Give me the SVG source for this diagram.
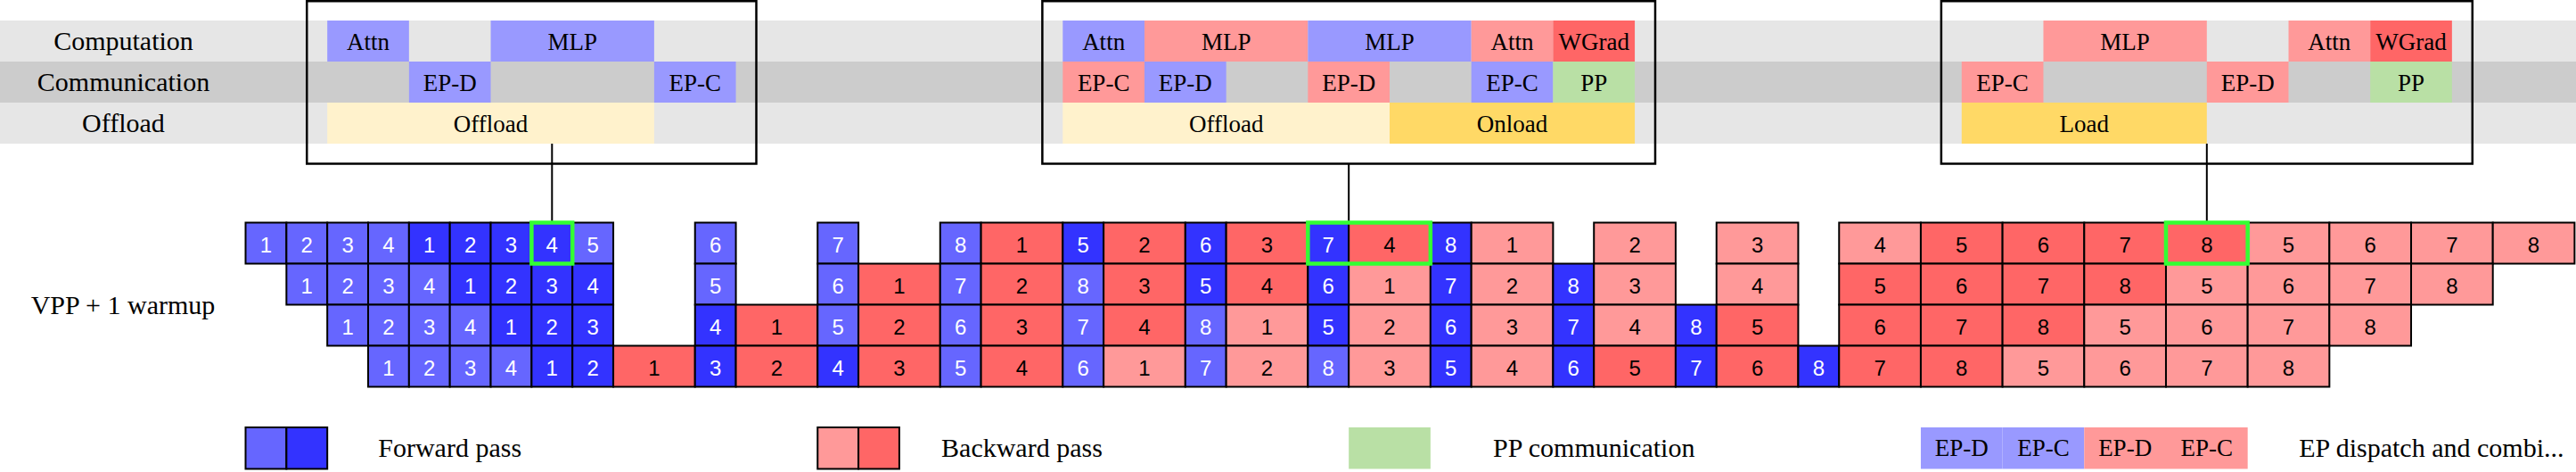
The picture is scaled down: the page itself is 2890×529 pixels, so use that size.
<svg xmlns="http://www.w3.org/2000/svg" width="2890" height="529" viewBox="0 0 2890 529">
<style>
.bandL{fill:#e6e6e6}.bandD{fill:#cccccc}
.tb{fill:#9999ff}.tr{fill:#ff9999}.tw{fill:#ff6666}.tg{fill:#b9e0a5}.ty{fill:#fff2cc}.to{fill:#ffd966}
.lbl{font-family:"Liberation Serif","Times New Roman",serif;font-size:30px;fill:#000;text-anchor:middle}
.tl{font-family:"Liberation Serif","Times New Roman",serif;font-size:27px;fill:#000;text-anchor:middle}
.box{fill:none;stroke:#000;stroke-width:2.5}
.cell rect{stroke:#000;stroke-width:2}
.cell text{font-family:"Liberation Sans",Arial,sans-serif;font-size:24px;text-anchor:middle}
.fl rect{fill:#6666ff}.fd rect{fill:#3333ff}.br rect{fill:#ff6666}.bp rect{fill:#ff9999}
.fl text,.fd text{fill:#fff}.br text,.bp text{fill:#000}
.hl{fill:none;stroke:#33ff33;stroke-width:4.5}
.conn line{stroke:#000;stroke-width:2}
.lg rect{stroke:#000;stroke-width:2}
</style>
<g id="bands">
<rect class="bandL" x="0" y="23" width="2890" height="46"/>
<rect class="bandD" x="0" y="69" width="2890" height="46"/>
<rect class="bandL" x="0" y="115" width="2890" height="46"/>
</g>
<g id="row-labels">
<text class="lbl" x="138.5" y="56">Computation</text>
<text class="lbl" x="138.5" y="102">Communication</text>
<text class="lbl" x="138.5" y="148">Offload</text>
<text class="lbl" x="138" y="351.5">VPP + 1 warmup</text>
</g>
<g id="detail1">
<rect class="tb" x="367.18" y="23" width="91.68" height="46"/><text class="tl" x="413.02" y="56">Attn</text>
<rect class="tb" x="550.54" y="23" width="183.36" height="46"/><text class="tl" x="642.22" y="56">MLP</text>
<rect class="tb" x="458.86" y="69" width="91.68" height="46"/><text class="tl" x="504.70" y="102">EP-D</text>
<rect class="tb" x="733.90" y="69" width="91.68" height="46"/><text class="tl" x="779.74" y="102">EP-C</text>
<rect class="ty" x="367.18" y="115" width="366.72" height="46"/><text class="tl" x="550.54" y="148">Offload</text>
<rect class="box" x="344.26" y="1.25" width="504.24" height="182.25"/>
</g>
<g id="detail2">
<rect class="tb" x="1192.30" y="23" width="91.68" height="46"/><text class="tl" x="1238.14" y="56">Attn</text>
<rect class="tr" x="1283.98" y="23" width="183.36" height="46"/><text class="tl" x="1375.66" y="56">MLP</text>
<rect class="tb" x="1467.34" y="23" width="183.36" height="46"/><text class="tl" x="1559.02" y="56">MLP</text>
<rect class="tr" x="1650.70" y="23" width="91.68" height="46"/><text class="tl" x="1696.54" y="56">Attn</text>
<rect class="tw" x="1742.38" y="23" width="91.68" height="46"/><text class="tl" x="1788.22" y="56">WGrad</text>
<rect class="tr" x="1192.30" y="69" width="91.68" height="46"/><text class="tl" x="1238.14" y="102">EP-C</text>
<rect class="tb" x="1283.98" y="69" width="91.68" height="46"/><text class="tl" x="1329.82" y="102">EP-D</text>
<rect class="tr" x="1467.34" y="69" width="91.68" height="46"/><text class="tl" x="1513.18" y="102">EP-D</text>
<rect class="tb" x="1650.70" y="69" width="91.68" height="46"/><text class="tl" x="1696.54" y="102">EP-C</text>
<rect class="tg" x="1742.38" y="69" width="91.68" height="46"/><text class="tl" x="1788.22" y="102">PP</text>
<rect class="ty" x="1192.30" y="115" width="366.72" height="46"/><text class="tl" x="1375.66" y="148">Offload</text>
<rect class="to" x="1559.02" y="115" width="275.04" height="46"/><text class="tl" x="1696.54" y="148">Onload</text>
<rect class="box" x="1169.38" y="1.25" width="687.6" height="182.25"/>
</g>
<g id="detail3">
<rect class="tr" x="2292.46" y="23" width="183.36" height="46"/><text class="tl" x="2384.14" y="56">MLP</text>
<rect class="tr" x="2567.50" y="23" width="91.68" height="46"/><text class="tl" x="2613.34" y="56">Attn</text>
<rect class="tw" x="2659.18" y="23" width="91.68" height="46"/><text class="tl" x="2705.02" y="56">WGrad</text>
<rect class="tr" x="2200.78" y="69" width="91.68" height="46"/><text class="tl" x="2246.62" y="102">EP-C</text>
<rect class="tr" x="2475.82" y="69" width="91.68" height="46"/><text class="tl" x="2521.66" y="102">EP-D</text>
<rect class="tg" x="2659.18" y="69" width="91.68" height="46"/><text class="tl" x="2705.02" y="102">PP</text>
<rect class="to" x="2200.78" y="115" width="275.04" height="46"/><text class="tl" x="2338.30" y="148">Load</text>
<rect class="box" x="2177.86" y="1.25" width="595.92" height="182.25"/>
</g>
<g id="connectors" class="conn">
<line x1="619.30" y1="161" x2="619.30" y2="249.5"/>
<line x1="1513.18" y1="183.5" x2="1513.18" y2="249.5"/>
<line x1="2475.82" y1="161" x2="2475.82" y2="249.5"/>
</g>
<g id="row1">
<g id="r1-0" class="cell fl"><rect x="275.50" y="249.5" width="45.84" height="46"/><text x="298.42" y="282.5">1</text></g>
<g id="r1-1" class="cell fl"><rect x="321.34" y="249.5" width="45.84" height="46"/><text x="344.26" y="282.5">2</text></g>
<g id="r1-2" class="cell fl"><rect x="367.18" y="249.5" width="45.84" height="46"/><text x="390.10" y="282.5">3</text></g>
<g id="r1-3" class="cell fl"><rect x="413.02" y="249.5" width="45.84" height="46"/><text x="435.94" y="282.5">4</text></g>
<g id="r1-4" class="cell fd"><rect x="458.86" y="249.5" width="45.84" height="46"/><text x="481.78" y="282.5">1</text></g>
<g id="r1-5" class="cell fd"><rect x="504.70" y="249.5" width="45.84" height="46"/><text x="527.62" y="282.5">2</text></g>
<g id="r1-6" class="cell fd"><rect x="550.54" y="249.5" width="45.84" height="46"/><text x="573.46" y="282.5">3</text></g>
<g id="r1-7" class="cell fd"><rect x="596.38" y="249.5" width="45.84" height="46"/><text x="619.30" y="282.5">4</text></g>
<g id="r1-8" class="cell fl"><rect x="642.22" y="249.5" width="45.84" height="46"/><text x="665.14" y="282.5">5</text></g>
<g id="r1-11" class="cell fl"><rect x="779.74" y="249.5" width="45.84" height="46"/><text x="802.66" y="282.5">6</text></g>
<g id="r1-14" class="cell fl"><rect x="917.26" y="249.5" width="45.84" height="46"/><text x="940.18" y="282.5">7</text></g>
<g id="r1-17" class="cell fl"><rect x="1054.78" y="249.5" width="45.84" height="46"/><text x="1077.70" y="282.5">8</text></g>
<g id="r1-18" class="cell br"><rect x="1100.62" y="249.5" width="91.68" height="46"/><text x="1146.46" y="282.5">1</text></g>
<g id="r1-20" class="cell fd"><rect x="1192.30" y="249.5" width="45.84" height="46"/><text x="1215.22" y="282.5">5</text></g>
<g id="r1-21" class="cell br"><rect x="1238.14" y="249.5" width="91.68" height="46"/><text x="1283.98" y="282.5">2</text></g>
<g id="r1-23" class="cell fd"><rect x="1329.82" y="249.5" width="45.84" height="46"/><text x="1352.74" y="282.5">6</text></g>
<g id="r1-24" class="cell br"><rect x="1375.66" y="249.5" width="91.68" height="46"/><text x="1421.50" y="282.5">3</text></g>
<g id="r1-26" class="cell fd"><rect x="1467.34" y="249.5" width="45.84" height="46"/><text x="1490.26" y="282.5">7</text></g>
<g id="r1-27" class="cell br"><rect x="1513.18" y="249.5" width="91.68" height="46"/><text x="1559.02" y="282.5">4</text></g>
<g id="r1-29" class="cell fd"><rect x="1604.86" y="249.5" width="45.84" height="46"/><text x="1627.78" y="282.5">8</text></g>
<g id="r1-30" class="cell bp"><rect x="1650.70" y="249.5" width="91.68" height="46"/><text x="1696.54" y="282.5">1</text></g>
<g id="r1-33" class="cell bp"><rect x="1788.22" y="249.5" width="91.68" height="46"/><text x="1834.06" y="282.5">2</text></g>
<g id="r1-36" class="cell bp"><rect x="1925.74" y="249.5" width="91.68" height="46"/><text x="1971.58" y="282.5">3</text></g>
<g id="r1-39" class="cell bp"><rect x="2063.26" y="249.5" width="91.68" height="46"/><text x="2109.10" y="282.5">4</text></g>
<g id="r1-41" class="cell br"><rect x="2154.94" y="249.5" width="91.68" height="46"/><text x="2200.78" y="282.5">5</text></g>
<g id="r1-43" class="cell br"><rect x="2246.62" y="249.5" width="91.68" height="46"/><text x="2292.46" y="282.5">6</text></g>
<g id="r1-45" class="cell br"><rect x="2338.30" y="249.5" width="91.68" height="46"/><text x="2384.14" y="282.5">7</text></g>
<g id="r1-47" class="cell br"><rect x="2429.98" y="249.5" width="91.68" height="46"/><text x="2475.82" y="282.5">8</text></g>
<g id="r1-49" class="cell bp"><rect x="2521.66" y="249.5" width="91.68" height="46"/><text x="2567.50" y="282.5">5</text></g>
<g id="r1-51" class="cell bp"><rect x="2613.34" y="249.5" width="91.68" height="46"/><text x="2659.18" y="282.5">6</text></g>
<g id="r1-53" class="cell bp"><rect x="2705.02" y="249.5" width="91.68" height="46"/><text x="2750.86" y="282.5">7</text></g>
<g id="r1-55" class="cell bp"><rect x="2796.70" y="249.5" width="91.68" height="46"/><text x="2842.54" y="282.5">8</text></g>
</g>
<g id="row2">
<g id="r2-1" class="cell fl"><rect x="321.34" y="295.5" width="45.84" height="46"/><text x="344.26" y="328.5">1</text></g>
<g id="r2-2" class="cell fl"><rect x="367.18" y="295.5" width="45.84" height="46"/><text x="390.10" y="328.5">2</text></g>
<g id="r2-3" class="cell fl"><rect x="413.02" y="295.5" width="45.84" height="46"/><text x="435.94" y="328.5">3</text></g>
<g id="r2-4" class="cell fl"><rect x="458.86" y="295.5" width="45.84" height="46"/><text x="481.78" y="328.5">4</text></g>
<g id="r2-5" class="cell fd"><rect x="504.70" y="295.5" width="45.84" height="46"/><text x="527.62" y="328.5">1</text></g>
<g id="r2-6" class="cell fd"><rect x="550.54" y="295.5" width="45.84" height="46"/><text x="573.46" y="328.5">2</text></g>
<g id="r2-7" class="cell fd"><rect x="596.38" y="295.5" width="45.84" height="46"/><text x="619.30" y="328.5">3</text></g>
<g id="r2-8" class="cell fd"><rect x="642.22" y="295.5" width="45.84" height="46"/><text x="665.14" y="328.5">4</text></g>
<g id="r2-11" class="cell fl"><rect x="779.74" y="295.5" width="45.84" height="46"/><text x="802.66" y="328.5">5</text></g>
<g id="r2-14" class="cell fl"><rect x="917.26" y="295.5" width="45.84" height="46"/><text x="940.18" y="328.5">6</text></g>
<g id="r2-15" class="cell br"><rect x="963.10" y="295.5" width="91.68" height="46"/><text x="1008.94" y="328.5">1</text></g>
<g id="r2-17" class="cell fl"><rect x="1054.78" y="295.5" width="45.84" height="46"/><text x="1077.70" y="328.5">7</text></g>
<g id="r2-18" class="cell br"><rect x="1100.62" y="295.5" width="91.68" height="46"/><text x="1146.46" y="328.5">2</text></g>
<g id="r2-20" class="cell fl"><rect x="1192.30" y="295.5" width="45.84" height="46"/><text x="1215.22" y="328.5">8</text></g>
<g id="r2-21" class="cell br"><rect x="1238.14" y="295.5" width="91.68" height="46"/><text x="1283.98" y="328.5">3</text></g>
<g id="r2-23" class="cell fd"><rect x="1329.82" y="295.5" width="45.84" height="46"/><text x="1352.74" y="328.5">5</text></g>
<g id="r2-24" class="cell br"><rect x="1375.66" y="295.5" width="91.68" height="46"/><text x="1421.50" y="328.5">4</text></g>
<g id="r2-26" class="cell fd"><rect x="1467.34" y="295.5" width="45.84" height="46"/><text x="1490.26" y="328.5">6</text></g>
<g id="r2-27" class="cell bp"><rect x="1513.18" y="295.5" width="91.68" height="46"/><text x="1559.02" y="328.5">1</text></g>
<g id="r2-29" class="cell fd"><rect x="1604.86" y="295.5" width="45.84" height="46"/><text x="1627.78" y="328.5">7</text></g>
<g id="r2-30" class="cell bp"><rect x="1650.70" y="295.5" width="91.68" height="46"/><text x="1696.54" y="328.5">2</text></g>
<g id="r2-32" class="cell fd"><rect x="1742.38" y="295.5" width="45.84" height="46"/><text x="1765.30" y="328.5">8</text></g>
<g id="r2-33" class="cell bp"><rect x="1788.22" y="295.5" width="91.68" height="46"/><text x="1834.06" y="328.5">3</text></g>
<g id="r2-36" class="cell bp"><rect x="1925.74" y="295.5" width="91.68" height="46"/><text x="1971.58" y="328.5">4</text></g>
<g id="r2-39" class="cell br"><rect x="2063.26" y="295.5" width="91.68" height="46"/><text x="2109.10" y="328.5">5</text></g>
<g id="r2-41" class="cell br"><rect x="2154.94" y="295.5" width="91.68" height="46"/><text x="2200.78" y="328.5">6</text></g>
<g id="r2-43" class="cell br"><rect x="2246.62" y="295.5" width="91.68" height="46"/><text x="2292.46" y="328.5">7</text></g>
<g id="r2-45" class="cell br"><rect x="2338.30" y="295.5" width="91.68" height="46"/><text x="2384.14" y="328.5">8</text></g>
<g id="r2-47" class="cell bp"><rect x="2429.98" y="295.5" width="91.68" height="46"/><text x="2475.82" y="328.5">5</text></g>
<g id="r2-49" class="cell bp"><rect x="2521.66" y="295.5" width="91.68" height="46"/><text x="2567.50" y="328.5">6</text></g>
<g id="r2-51" class="cell bp"><rect x="2613.34" y="295.5" width="91.68" height="46"/><text x="2659.18" y="328.5">7</text></g>
<g id="r2-53" class="cell bp"><rect x="2705.02" y="295.5" width="91.68" height="46"/><text x="2750.86" y="328.5">8</text></g>
</g>
<g id="row3">
<g id="r3-2" class="cell fl"><rect x="367.18" y="341.5" width="45.84" height="46"/><text x="390.10" y="374.5">1</text></g>
<g id="r3-3" class="cell fl"><rect x="413.02" y="341.5" width="45.84" height="46"/><text x="435.94" y="374.5">2</text></g>
<g id="r3-4" class="cell fl"><rect x="458.86" y="341.5" width="45.84" height="46"/><text x="481.78" y="374.5">3</text></g>
<g id="r3-5" class="cell fl"><rect x="504.70" y="341.5" width="45.84" height="46"/><text x="527.62" y="374.5">4</text></g>
<g id="r3-6" class="cell fd"><rect x="550.54" y="341.5" width="45.84" height="46"/><text x="573.46" y="374.5">1</text></g>
<g id="r3-7" class="cell fd"><rect x="596.38" y="341.5" width="45.84" height="46"/><text x="619.30" y="374.5">2</text></g>
<g id="r3-8" class="cell fd"><rect x="642.22" y="341.5" width="45.84" height="46"/><text x="665.14" y="374.5">3</text></g>
<g id="r3-11" class="cell fd"><rect x="779.74" y="341.5" width="45.84" height="46"/><text x="802.66" y="374.5">4</text></g>
<g id="r3-12" class="cell br"><rect x="825.58" y="341.5" width="91.68" height="46"/><text x="871.42" y="374.5">1</text></g>
<g id="r3-14" class="cell fl"><rect x="917.26" y="341.5" width="45.84" height="46"/><text x="940.18" y="374.5">5</text></g>
<g id="r3-15" class="cell br"><rect x="963.10" y="341.5" width="91.68" height="46"/><text x="1008.94" y="374.5">2</text></g>
<g id="r3-17" class="cell fl"><rect x="1054.78" y="341.5" width="45.84" height="46"/><text x="1077.70" y="374.5">6</text></g>
<g id="r3-18" class="cell br"><rect x="1100.62" y="341.5" width="91.68" height="46"/><text x="1146.46" y="374.5">3</text></g>
<g id="r3-20" class="cell fl"><rect x="1192.30" y="341.5" width="45.84" height="46"/><text x="1215.22" y="374.5">7</text></g>
<g id="r3-21" class="cell br"><rect x="1238.14" y="341.5" width="91.68" height="46"/><text x="1283.98" y="374.5">4</text></g>
<g id="r3-23" class="cell fl"><rect x="1329.82" y="341.5" width="45.84" height="46"/><text x="1352.74" y="374.5">8</text></g>
<g id="r3-24" class="cell bp"><rect x="1375.66" y="341.5" width="91.68" height="46"/><text x="1421.50" y="374.5">1</text></g>
<g id="r3-26" class="cell fd"><rect x="1467.34" y="341.5" width="45.84" height="46"/><text x="1490.26" y="374.5">5</text></g>
<g id="r3-27" class="cell bp"><rect x="1513.18" y="341.5" width="91.68" height="46"/><text x="1559.02" y="374.5">2</text></g>
<g id="r3-29" class="cell fd"><rect x="1604.86" y="341.5" width="45.84" height="46"/><text x="1627.78" y="374.5">6</text></g>
<g id="r3-30" class="cell bp"><rect x="1650.70" y="341.5" width="91.68" height="46"/><text x="1696.54" y="374.5">3</text></g>
<g id="r3-32" class="cell fd"><rect x="1742.38" y="341.5" width="45.84" height="46"/><text x="1765.30" y="374.5">7</text></g>
<g id="r3-33" class="cell bp"><rect x="1788.22" y="341.5" width="91.68" height="46"/><text x="1834.06" y="374.5">4</text></g>
<g id="r3-35" class="cell fd"><rect x="1879.90" y="341.5" width="45.84" height="46"/><text x="1902.82" y="374.5">8</text></g>
<g id="r3-36" class="cell br"><rect x="1925.74" y="341.5" width="91.68" height="46"/><text x="1971.58" y="374.5">5</text></g>
<g id="r3-39" class="cell br"><rect x="2063.26" y="341.5" width="91.68" height="46"/><text x="2109.10" y="374.5">6</text></g>
<g id="r3-41" class="cell br"><rect x="2154.94" y="341.5" width="91.68" height="46"/><text x="2200.78" y="374.5">7</text></g>
<g id="r3-43" class="cell br"><rect x="2246.62" y="341.5" width="91.68" height="46"/><text x="2292.46" y="374.5">8</text></g>
<g id="r3-45" class="cell bp"><rect x="2338.30" y="341.5" width="91.68" height="46"/><text x="2384.14" y="374.5">5</text></g>
<g id="r3-47" class="cell bp"><rect x="2429.98" y="341.5" width="91.68" height="46"/><text x="2475.82" y="374.5">6</text></g>
<g id="r3-49" class="cell bp"><rect x="2521.66" y="341.5" width="91.68" height="46"/><text x="2567.50" y="374.5">7</text></g>
<g id="r3-51" class="cell bp"><rect x="2613.34" y="341.5" width="91.68" height="46"/><text x="2659.18" y="374.5">8</text></g>
</g>
<g id="row4">
<g id="r4-3" class="cell fl"><rect x="413.02" y="387.5" width="45.84" height="46"/><text x="435.94" y="420.5">1</text></g>
<g id="r4-4" class="cell fl"><rect x="458.86" y="387.5" width="45.84" height="46"/><text x="481.78" y="420.5">2</text></g>
<g id="r4-5" class="cell fl"><rect x="504.70" y="387.5" width="45.84" height="46"/><text x="527.62" y="420.5">3</text></g>
<g id="r4-6" class="cell fl"><rect x="550.54" y="387.5" width="45.84" height="46"/><text x="573.46" y="420.5">4</text></g>
<g id="r4-7" class="cell fd"><rect x="596.38" y="387.5" width="45.84" height="46"/><text x="619.30" y="420.5">1</text></g>
<g id="r4-8" class="cell fd"><rect x="642.22" y="387.5" width="45.84" height="46"/><text x="665.14" y="420.5">2</text></g>
<g id="r4-9" class="cell br"><rect x="688.06" y="387.5" width="91.68" height="46"/><text x="733.90" y="420.5">1</text></g>
<g id="r4-11" class="cell fd"><rect x="779.74" y="387.5" width="45.84" height="46"/><text x="802.66" y="420.5">3</text></g>
<g id="r4-12" class="cell br"><rect x="825.58" y="387.5" width="91.68" height="46"/><text x="871.42" y="420.5">2</text></g>
<g id="r4-14" class="cell fd"><rect x="917.26" y="387.5" width="45.84" height="46"/><text x="940.18" y="420.5">4</text></g>
<g id="r4-15" class="cell br"><rect x="963.10" y="387.5" width="91.68" height="46"/><text x="1008.94" y="420.5">3</text></g>
<g id="r4-17" class="cell fl"><rect x="1054.78" y="387.5" width="45.84" height="46"/><text x="1077.70" y="420.5">5</text></g>
<g id="r4-18" class="cell br"><rect x="1100.62" y="387.5" width="91.68" height="46"/><text x="1146.46" y="420.5">4</text></g>
<g id="r4-20" class="cell fl"><rect x="1192.30" y="387.5" width="45.84" height="46"/><text x="1215.22" y="420.5">6</text></g>
<g id="r4-21" class="cell bp"><rect x="1238.14" y="387.5" width="91.68" height="46"/><text x="1283.98" y="420.5">1</text></g>
<g id="r4-23" class="cell fl"><rect x="1329.82" y="387.5" width="45.84" height="46"/><text x="1352.74" y="420.5">7</text></g>
<g id="r4-24" class="cell bp"><rect x="1375.66" y="387.5" width="91.68" height="46"/><text x="1421.50" y="420.5">2</text></g>
<g id="r4-26" class="cell fl"><rect x="1467.34" y="387.5" width="45.84" height="46"/><text x="1490.26" y="420.5">8</text></g>
<g id="r4-27" class="cell bp"><rect x="1513.18" y="387.5" width="91.68" height="46"/><text x="1559.02" y="420.5">3</text></g>
<g id="r4-29" class="cell fd"><rect x="1604.86" y="387.5" width="45.84" height="46"/><text x="1627.78" y="420.5">5</text></g>
<g id="r4-30" class="cell bp"><rect x="1650.70" y="387.5" width="91.68" height="46"/><text x="1696.54" y="420.5">4</text></g>
<g id="r4-32" class="cell fd"><rect x="1742.38" y="387.5" width="45.84" height="46"/><text x="1765.30" y="420.5">6</text></g>
<g id="r4-33" class="cell br"><rect x="1788.22" y="387.5" width="91.68" height="46"/><text x="1834.06" y="420.5">5</text></g>
<g id="r4-35" class="cell fd"><rect x="1879.90" y="387.5" width="45.84" height="46"/><text x="1902.82" y="420.5">7</text></g>
<g id="r4-36" class="cell br"><rect x="1925.74" y="387.5" width="91.68" height="46"/><text x="1971.58" y="420.5">6</text></g>
<g id="r4-38" class="cell fd"><rect x="2017.42" y="387.5" width="45.84" height="46"/><text x="2040.34" y="420.5">8</text></g>
<g id="r4-39" class="cell br"><rect x="2063.26" y="387.5" width="91.68" height="46"/><text x="2109.10" y="420.5">7</text></g>
<g id="r4-41" class="cell br"><rect x="2154.94" y="387.5" width="91.68" height="46"/><text x="2200.78" y="420.5">8</text></g>
<g id="r4-43" class="cell bp"><rect x="2246.62" y="387.5" width="91.68" height="46"/><text x="2292.46" y="420.5">5</text></g>
<g id="r4-45" class="cell bp"><rect x="2338.30" y="387.5" width="91.68" height="46"/><text x="2384.14" y="420.5">6</text></g>
<g id="r4-47" class="cell bp"><rect x="2429.98" y="387.5" width="91.68" height="46"/><text x="2475.82" y="420.5">7</text></g>
<g id="r4-49" class="cell bp"><rect x="2521.66" y="387.5" width="91.68" height="46"/><text x="2567.50" y="420.5">8</text></g>
</g>
<g id="highlights">
<rect class="hl" x="596.38" y="249.5" width="45.84" height="46"/>
<rect class="hl" x="1467.34" y="249.5" width="137.52" height="46"/>
<rect class="hl" x="2429.98" y="249.5" width="91.68" height="46"/>
</g>
<g id="legend-forward" class="lg">
<rect x="275.50" y="479" width="45.84" height="46.5" fill="#6666ff"/>
<rect x="321.34" y="479" width="45.84" height="46.5" fill="#3333ff"/>
<text class="lbl" x="504.70" y="512">Forward pass</text>
</g>
<g id="legend-backward" class="lg">
<rect x="917.26" y="479" width="45.84" height="46.5" fill="#ff9999"/>
<rect x="963.10" y="479" width="45.84" height="46.5" fill="#ff6666"/>
<text class="lbl" x="1146.46" y="512">Backward pass</text>
</g>
<g id="legend-pp">
<rect class="tg" x="1513.18" y="479" width="91.68" height="46.5"/>
<text class="lbl" x="1788.22" y="512">PP communication</text>
</g>
<g id="legend-ep">
<rect class="tb" x="2154.94" y="479" width="91.68" height="46.5"/><text class="tl" x="2200.78" y="511">EP-D</text>
<rect class="tb" x="2246.62" y="479" width="91.68" height="46.5"/><text class="tl" x="2292.46" y="511">EP-C</text>
<rect class="tr" x="2338.30" y="479" width="91.68" height="46.5"/><text class="tl" x="2384.14" y="511">EP-D</text>
<rect class="tr" x="2429.98" y="479" width="91.68" height="46.5"/><text class="tl" x="2475.82" y="511">EP-C</text>
<text class="lbl" x="2727.9" y="512">EP dispatch and combi...</text>
</g>
</svg>
